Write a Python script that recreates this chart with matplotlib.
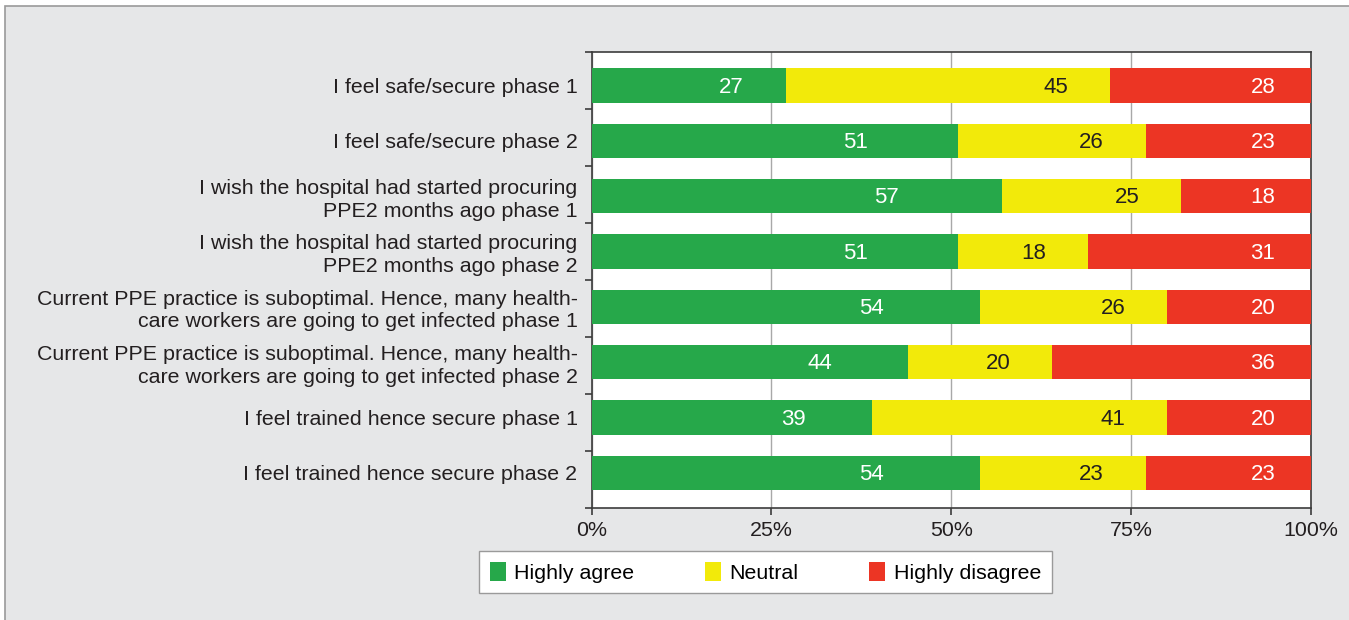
import numpy as np
import matplotlib
matplotlib.use('Agg')
import matplotlib.pyplot as plt
from matplotlib.patches import Rectangle
from matplotlib.ticker import FixedLocator

plt.rcParams['font.family'] = ['Liberation Sans', 'DejaVu Sans']

# survey statements (top to bottom) and the share of answers in %
statements = [
    'I feel safe/secure phase 1',
    'I feel safe/secure phase 2',
    'I wish the hospital had started procuring\nPPE2 months ago phase 1',
    'I wish the hospital had started procuring\nPPE2 months ago phase 2',
    'Current PPE practice is suboptimal. Hence, many health-\ncare workers are going to get infected phase 1',
    'Current PPE practice is suboptimal. Hence, many health-\ncare workers are going to get infected phase 2',
    'I feel trained hence secure phase 1',
    'I feel trained hence secure phase 2',
]
agree = [27, 51, 57, 51, 54, 44, 39, 54]
neutral = [45, 26, 25, 18, 26, 20, 41, 23]
disagree = [28, 23, 18, 31, 20, 36, 20, 23]
series_names = ['Highly agree', 'Neutral', 'Highly disagree']
xtick_vals = [0, 25, 50, 75, 100]

colors = ['#26a84a', '#f2ea0a', '#ec3524']
text_colors = ['white', '#231f20', 'white']

fig = plt.figure(figsize=(13.49, 6.2), dpi=100, facecolor='white')
# gray panel behind the chart
fig.patches.append(Rectangle((5 / 1349, -0.05), 1.1, 1.05 - 6 / 620,
                             transform=fig.transFigure, facecolor='#e6e7e8',
                             edgecolor='#9a9a9a', linewidth=1.2, zorder=-10))

ax = fig.add_axes([591.5 / 1349, 1 - 508.3 / 620, (1311 - 591.5) / 1349, (508.3 - 51.7) / 620])
ax.set_facecolor('white')

y = np.arange(len(statements))
left = np.zeros(len(statements))
for k, vals in enumerate([agree, neutral, disagree]):
    vals = np.array(vals, dtype=float)
    ax.barh(y, vals, left=left, height=0.62, color=colors[k], label=series_names[k], zorder=3)
    for i in range(len(y)):
        # labels sit towards the right end of each segment
        if k == 0:
            xt = left[i] + vals[i] * 0.72
        elif k == 1:
            xt = left[i] + vals[i] - 7.5
        else:
            xt = 93.3
        ax.text(xt, y[i] + 0.03, str(int(vals[i])), ha='center', va='center',
                color=text_colors[k], fontsize=16, zorder=4)
    left += vals

ax.set_xlim(0, 100)
ax.set_ylim(7.644, -0.611)
ax.set_xticks(xtick_vals)
ax.set_xticklabels([str(v) + '%' for v in xtick_vals])
ax.set_yticks(y)
ax.set_yticklabels(statements, linespacing=1.25)
ax.yaxis.set_minor_locator(FixedLocator(np.linspace(-0.611, 7.644, 9)))
ax.tick_params(axis='y', which='major', length=0, pad=10, labelsize=15.4, colors='#231f20')
ax.tick_params(axis='y', which='minor', length=5, width=1.2, color='#3c3c3c')
ax.tick_params(axis='x', length=5, width=1.2, color='#3c3c3c', pad=4, labelsize=15.4, labelcolor='#231f20')
ax.grid(axis='x', color='#a8a8a8', linewidth=1, zorder=0)
for s in ax.spines.values():
    s.set_color('#3c3c3c')
    s.set_linewidth(1.2)

ax.legend(loc='upper left', bbox_to_anchor=(479 / 1349, 1 - 551 / 620),
          bbox_transform=fig.transFigure, ncol=3, fontsize=15.4, frameon=True,
          fancybox=False, edgecolor='#9a9a9a', framealpha=1, handlelength=0.75,
          handleheight=1.0, handletextpad=0.4, columnspacing=3.3,
          borderpad=0.5, borderaxespad=0)

fig.savefig('out.png', dpi=100, facecolor=fig.get_facecolor())
